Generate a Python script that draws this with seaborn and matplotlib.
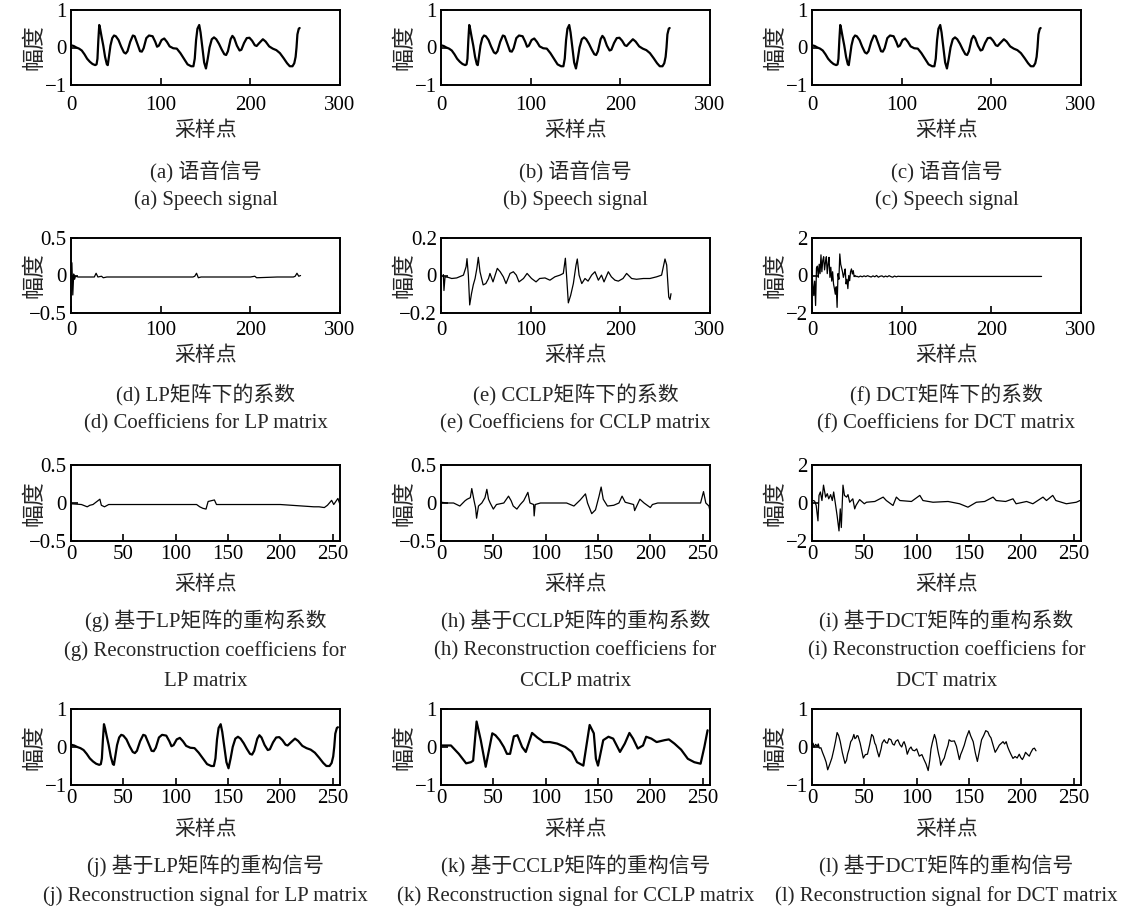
import matplotlib
matplotlib.use("Agg")
import matplotlib.pyplot as plt
import seaborn as sns
import pandas as pd

# ---- speech frame (a)-(c), samples of the waveform ----
speech_x = [0, 3, 6, 9, 12, 15, 18, 21, 24, 27, 28.5, 29.5, 30.5, 31.5, 32.5, 34, 36, 38, 40, 41,
            42, 44, 46, 48, 50, 53, 56, 59, 61, 63, 66, 69, 71, 74, 77, 79, 81, 84, 87, 91, 94,
            96, 98, 101, 104, 107, 110, 114, 118, 122, 126, 130, 134, 136.5, 138, 139.5, 141,
            143, 144.5, 146.5, 148.5, 150.5, 152.5, 154.5, 157, 159.5, 162, 165, 168, 171, 173,
            175, 178, 180, 182, 185, 188, 190, 193, 196, 199, 202, 205, 207, 210, 214, 217, 221,
            225, 229, 233, 237, 241, 244, 247, 249, 250.5, 251.5, 252.5, 254, 255]
speech_y = [0.06, 0.04, 0.0, -0.03, -0.08, -0.18, -0.3, -0.38, -0.44, -0.47, -0.45, -0.3, 0.2,
            0.6, 0.5, 0.3, 0.05, -0.25, -0.45, -0.47, -0.3, 0.05, 0.25, 0.32, 0.3, 0.2, 0.02,
            -0.13, -0.16, -0.1, 0.15, 0.32, 0.3, 0.1, -0.1, -0.11, -0.02, 0.25, 0.32, 0.3, 0.15,
            0.02, 0.05, 0.2, 0.24, 0.15, 0.03, -0.02, -0.03, -0.15, -0.3, -0.45, -0.5, -0.5,
            -0.3, 0.2, 0.5, 0.6, 0.4, 0.0, -0.4, -0.56, -0.3, 0.0, 0.22, 0.27, 0.22, 0.1, -0.05,
            -0.18, -0.2, -0.1, 0.22, 0.31, 0.25, 0.05, -0.08, -0.06, 0.12, 0.25, 0.26, 0.18,
            0.06, 0.04, 0.12, 0.22, 0.16, 0.03, -0.03, -0.07, -0.15, -0.28, -0.42, -0.5, -0.5,
            -0.42, -0.25, 0.0, 0.35, 0.5, 0.52]

# ---- (d) coefficients under the LP matrix ----
lp_coef_x = [0, 1, 2, 3, 4, 5, 8, 20, 26, 28, 30, 34, 36, 40, 60, 80, 100, 120, 136, 138, 140,
             142, 145, 170, 200, 205, 207, 230, 248, 250, 252, 254, 256]
lp_coef_y = [0.0, 0.17, -0.26, 0.02, -0.05, -0.01, -0.02, -0.02, -0.02, 0.03, -0.02, -0.01, -0.03,
             -0.02, -0.02, -0.02, -0.02, -0.02, -0.02, -0.01, 0.03, -0.03, -0.02, -0.02, -0.02,
             -0.01, -0.03, -0.02, -0.02, -0.01, 0.03, -0.01, 0.0]

# ---- (e) coefficients under the CCLP matrix ----
cclp_coef_x = [2.6, 3.3, 4.5, 8, 12, 17.5, 25, 28, 29, 30.5, 32, 34, 36, 38, 40, 41.6, 43.5, 47, 50,
               53, 54.6, 58, 62.8, 66, 69.5, 72.5, 77, 80.7, 84, 87, 92, 96, 101, 106, 110, 116,
               121.5, 127, 132.7, 136.4, 138.7, 140, 142, 144.6, 147.6, 150.6, 152, 154, 157,
               160.6, 164, 168, 171.7, 175.5, 179, 181.8, 186.6, 190, 194, 197.8, 203, 207,
               212.6, 218, 225.7, 233, 240.5, 246, 249.8, 251.7, 254, 255.4, 256.5]
cclp_coef_y = [0.005, -0.08, -0.007, -0.01, -0.016, -0.013, 0.002, 0.047, 0.09, 0.002, -0.157,
               -0.097, -0.05, -0.016, 0.038, 0.097, 0.02, -0.05, -0.043, -0.016, 0.011, -0.034,
               0.038, 0.02, -0.007, -0.043, 0.011, 0.02, 0.002, -0.034, -0.016, 0.011, -0.016,
               -0.034, -0.016, -0.013, -0.025, -0.007, 0.002, 0.011, 0.092, 0.002, -0.146,
               -0.106, -0.043, 0.056, 0.088, 0.002, -0.043, -0.016, -0.03, 0.002, 0.02, -0.025,
               0.002, -0.034, 0.02, -0.007, -0.025, -0.03, -0.016, 0.011, -0.016, -0.02, -0.016,
               -0.016, -0.007, 0.002, 0.088, 0.056, -0.115, -0.128, -0.097]

# ---- (f) coefficients under the DCT matrix ----
dct_coef_x = list(range(0, 51)) + [52, 54, 56, 58, 60, 62, 64, 66, 68, 70, 72, 74, 76, 78, 80, 82,
                                   84, 86, 88, 90, 92, 94, 96, 98, 256]
dct_coef_y = [0.1, -0.5, -1.07, -0.3, -1.6, 0.4, 0.5, -0.1, 0.6, 0.1, 1.1, 0.2, 0.8, 1.0, 0.3,
              0.7, 1.0, 0.1, 0.6, 0.97, -0.1, 0.44, -0.3, 0.2, -0.45, -0.7, -1.0, -0.6, -1.7, 0.1,
              -0.2, 1.15, 0.6, 0.4, 0.2, -0.1, 0.1, 0.35, -0.45, -0.2, -0.7, 0.0, -0.28, 0.2,
              0.35, 0.08, 0.26, -0.06, 0.0, -0.06, -0.04,
              -0.08, -0.03, -0.07, -0.02, -0.06, -0.01, -0.05, -0.08, -0.02, -0.07, 0.0, -0.09,
              -0.04, -0.02, -0.08, -0.03, -0.07, -0.01, -0.06, -0.09, -0.03, -0.07, -0.04,
              -0.05, -0.05]

# ---- (g) reconstructed coefficients, LP ----
lp_rec_x = [0, 10, 15.5, 18, 21, 27.6, 29, 32, 36, 60, 90, 120, 123, 126, 129, 131, 137, 139, 170,
            200, 232, 237, 242, 245, 249, 251, 255, 257]
lp_rec_y = [-0.01, -0.02, -0.05, -0.03, -0.02, 0.05, -0.03, -0.05, -0.02, -0.02, -0.02, -0.02,
            -0.05, -0.07, -0.08, 0.02, 0.04, -0.02, -0.02, -0.02, -0.05, -0.05, -0.06, -0.03,
            0.035, -0.02, 0.06, -0.02]

# ---- (h) reconstructed coefficients, CCLP ----
cclp_rec_x = [0.6, 5, 12, 18, 23, 25, 28, 29.4, 31.6, 33, 34, 35.8, 39, 42, 43.8, 45.4, 47, 50, 53,
              60, 64.5, 67, 69, 72.5, 75.7, 79, 83, 85, 88.5, 89, 90, 95, 100, 108, 120, 127, 133,
              138, 140, 144, 147.6, 151, 153, 155, 159, 165, 170, 173, 176, 184, 185, 190, 194,
              200, 202, 207, 229, 248, 250.8, 253, 256, 257]
cclp_rec_y = [0.01, 0.0, 0.0, -0.04, 0.03, 0.05, 0.07, 0.19, 0.03, -0.06, -0.2, -0.04, 0.0, 0.07,
              0.18, 0.05, 0.0, -0.08, -0.02, 0.0, 0.09, 0.03, -0.04, -0.08, -0.02, 0.03, 0.14, 0.0,
              -0.02, -0.17, -0.02, 0.0, 0.0, 0.0, 0.0, -0.04, 0.04, 0.12, 0.0, -0.14, -0.09, 0.09,
              0.21, 0.05, -0.04, -0.03, 0.0, 0.09, 0.01, -0.02, -0.1, 0.05, 0.0, -0.06, -0.02,
              0.0, 0.0, 0.0, 0.15, 0.0, -0.04, -0.11]

# ---- (i) reconstructed coefficients, DCT ----
dct_rec_x = [1, 2.5, 4, 5.7, 6.7, 8, 9.5, 11, 13, 14.6, 16, 17.8, 19.4, 20.7, 22.6, 24, 25.8, 27,
             28, 29.6, 31, 33, 34.4, 36, 39, 40.8, 42, 45.5, 50, 52, 60, 68, 71, 77.4, 80.6, 84,
             95, 103, 106, 115.6, 130, 141, 149, 157, 165, 173, 176, 185, 192, 195, 205, 211,
             220.7, 224, 230, 233, 243, 252.5, 256]
dct_rec_y = [0.13, 0.1, -0.13, -0.94, 0.4, 0.58, 0.13, 0.94, 0.31, 0.49, 0.22, 0.44, 0.13, 0.58,
             -0.13, -0.67, -1.47, -0.31, -1.29, 0.94, 0.4, 0.31, 0.44, 0.04, 0.22, -0.31, -0.13,
             0.18, -0.04, 0.04, 0.08, 0.31, 0.13, -0.13, 0.31, 0.13, 0.08, 0.4, 0.13, 0.04, 0.08,
             -0.04, -0.22, 0.04, 0.08, 0.31, 0.13, 0.08, 0.22, -0.04, 0.08, -0.04, 0.31, 0.13,
             0.4, 0.13, -0.04, 0.04, 0.13]

# ---- (k) reconstructed signal, CCLP ----
cclp_sig_x = [0, 9.5, 17, 24, 28.5, 30.7, 34, 38, 42.7, 49, 52, 56, 60, 63, 66, 69.6, 73, 77.5, 81,
              87, 92, 98, 104, 111, 118.7, 125, 130, 136, 142, 146, 148, 150, 155, 160, 164.5, 171,
              175.6, 180, 183.5, 188, 193, 196, 201, 206, 213.6, 217.7, 223, 229.4, 235.8, 242,
              248, 251.6, 254.7]
cclp_sig_y = [0.04, 0.04, -0.18, -0.43, -0.4, -0.36, 0.67, 0.18, -0.52, 0.36, 0.31, 0.18, 0.0,
              -0.18, -0.18, 0.28, 0.31, 0.0, -0.13, 0.37, 0.25, 0.13, 0.13, 0.09, 0.0, -0.13, -0.4,
              -0.49, 0.58, 0.36, -0.31, -0.49, 0.18, 0.27, 0.22, -0.13, 0.09, 0.37, 0.22, -0.04,
              0.04, 0.27, 0.22, 0.13, 0.18, 0.2, 0.09, -0.07, -0.31, -0.4, -0.44, 0.0, 0.44]

# ---- (l) reconstructed signal, DCT ----
dct_sig_x = [0, 1, 2, 3.5, 5, 6, 7, 8.5, 10, 12, 13.5, 15, 17, 19, 21, 22.5, 24, 25.5, 27, 29,
             31.5, 33, 34, 35.5, 37, 38.5, 40, 41, 42, 43, 44, 46, 47.5, 49, 51, 53, 55, 57, 58.5,
             60, 61, 62.5, 64, 66, 67, 69, 70.5, 72, 73.5, 75.5, 77, 78.6, 80, 82, 84, 85.7, 87,
             88, 89.5, 91, 93, 94.6, 96, 98, 100, 102.5, 105, 107, 109, 111, 112.5, 113.7, 115,
             117, 118.5, 120, 121, 122, 123, 124.5, 126.4, 128, 130, 131, 133, 136, 138, 140.8,
             142, 143.5, 145.5, 147.5, 150, 151.5, 154, 156, 158, 160, 162, 164, 166, 168, 169.5,
             171, 173, 175, 177, 179, 181, 182.5, 184, 185.5, 187, 188.5, 190, 192, 194, 196,
             198, 199.5, 201, 202.5, 204, 206, 207.6, 209, 211, 212.5, 214]
dct_sig_y = [0.05, 0.1, 0.0, 0.07, 0.02, 0.08, -0.03, -0.02, -0.14, -0.28, -0.4, -0.6, -0.45,
             -0.29, -0.05, 0.15, 0.38, 0.3, 0.14, -0.15, -0.43, -0.35, -0.19, -0.05, 0.14, 0.2,
             0.33, 0.22, 0.24, 0.3, 0.29, 0.1, -0.1, -0.29, -0.2, -0.19, 0.05, 0.33, 0.28, 0.1,
             0.05, -0.12, -0.26, -0.05, 0.1, 0.19, 0.12, 0.1, 0.22, 0.19, 0.08, 0.05, 0.15, 0.19,
             0.06, 0.0, 0.1, 0.14, 0.02, -0.19, -0.05, 0.0, -0.08, -0.1, -0.05, -0.24, -0.2,
             -0.33, -0.45, -0.62, -0.35, -0.05, 0.12, 0.33, 0.2, -0.05, -0.19, -0.3, -0.48,
             -0.38, -0.29, -0.12, 0.05, 0.19, 0.15, 0.16, 0.02, -0.33, -0.2, -0.1, 0.05, 0.25,
             0.43, 0.3, 0.14, -0.15, -0.38, -0.1, 0.19, 0.3, 0.43, 0.4, 0.3, 0.24, 0.05, -0.14,
             -0.05, 0.05, 0.1, 0.14, 0.08, 0.14, 0.0, -0.1, -0.19, -0.3, -0.25, -0.29, -0.19,
             -0.28, -0.33, -0.25, -0.14, -0.2, -0.24, -0.15, -0.05, -0.03, -0.1]

# ---- captions ----
captions_cn = ["(a) 语音信号", "(b) 语音信号", "(c) 语音信号",
               "(d) LP矩阵下的系数", "(e) CCLP矩阵下的系数", "(f) DCT矩阵下的系数",
               "(g) 基于LP矩阵的重构系数", "(h) 基于CCLP矩阵的重构系数", "(i) 基于DCT矩阵的重构系数",
               "(j) 基于LP矩阵的重构信号", "(k) 基于CCLP矩阵的重构信号", "(l) 基于DCT矩阵的重构信号"]
captions_en = [["(a) Speech signal"], ["(b) Speech signal"], ["(c) Speech signal"],
               ["(d) Coefficiens for LP matrix"], ["(e) Coefficiens for CCLP matrix"],
               ["(f) Coefficiens for DCT matrix"],
               ["(g) Reconstruction coefficiens for", "LP matrix"],
               ["(h) Reconstruction coefficiens for", "CCLP matrix"],
               ["(i) Reconstruction coefficiens for", "DCT matrix"],
               ["(j) Reconstruction signal for LP matrix"],
               ["(k) Reconstruction signal for CCLP matrix"],
               ["(l) Reconstruction signal for DCT matrix"]]
ylabel_text = "幅度"
xlabel_text = "采样点"

sns.set_style("ticks")
FONT = ["Liberation Serif", "Noto Sans CJK SC", "DejaVu Sans"]
plt.rcParams["font.family"] = FONT
plt.rcParams["axes.unicode_minus"] = True
FS = 15

W, H = 1140, 911
fig = plt.figure(figsize=(W / 100, H / 100), dpi=100)
fig.patch.set_facecolor("white")

col_left = [71, 441, 812]
col_width = 269
rows = [  # top, bottom, xlabel y, caption y's
    dict(top=10, bot=85, xl=131, cap=[172, 200], xlim=(0, 300), xt=[0, 100, 200, 300], pad=8),
    dict(top=238, bot=313, xl=356, cap=[395, 424], xlim=(0, 300), xt=[0, 100, 200, 300], pad=5.5),
    dict(top=465, bot=541, xl=585, cap=[621, 651, 681], xlim=(0, 257),
         xt=[0, 50, 100, 150, 200, 250], pad=3),
    dict(top=709, bot=785, xl=830, cap=[866, 896], xlim=(0, 257),
         xt=[0, 50, 100, 150, 200, 250], pad=3),
]

panels = [
    (speech_x, speech_y, (-1, 1), [-1, 0, 1], ["−1", "0", "1"], 1.6),
    (speech_x, speech_y, (-1, 1), [-1, 0, 1], ["−1", "0", "1"], 1.6),
    (speech_x, speech_y, (-1, 1), [-1, 0, 1], ["−1", "0", "1"], 1.6),
    (lp_coef_x, lp_coef_y, (-0.5, 0.5), [-0.5, 0, 0.5], ["−0.5", "0", "0.5"], 0.9),
    (cclp_coef_x, cclp_coef_y, (-0.2, 0.2), [-0.2, 0, 0.2], ["−0.2", "0", "0.2"], 0.9),
    (dct_coef_x, dct_coef_y, (-2, 2), [-2, 0, 2], ["−2", "0", "2"], 0.9),
    (lp_rec_x, lp_rec_y, (-0.5, 0.5), [-0.5, 0, 0.5], ["−0.5", "0", "0.5"], 0.9),
    (cclp_rec_x, cclp_rec_y, (-0.5, 0.5), [-0.5, 0, 0.5], ["−0.5", "0", "0.5"], 0.9),
    (dct_rec_x, dct_rec_y, (-2, 2), [-2, 0, 2], ["−2", "0", "2"], 0.9),
    (speech_x, speech_y, (-1, 1), [-1, 0, 1], ["−1", "0", "1"], 1.6),
    (cclp_sig_x, cclp_sig_y, (-1, 1), [-1, 0, 1], ["−1", "0", "1"], 1.6),
    (dct_sig_x, dct_sig_y, (-1, 1), [-1, 0, 1], ["−1", "0", "1"], 0.9),
]

for idx, (px, py, ylim, yt, ytl, lw) in enumerate(panels):
    r, c = divmod(idx, 3)
    row = rows[r]
    left = col_left[c]
    ax = fig.add_axes([left / W, 1 - row["bot"] / H, col_width / W, (row["bot"] - row["top"]) / H])
    df = pd.DataFrame({"x": px, "y": py})
    sns.lineplot(data=df, x="x", y="y", ax=ax, color="black", linewidth=lw,
                 estimator=None, sort=False)
    ax.set_xlim(*row["xlim"])
    ax.set_ylim(*ylim)
    ax.set_xticks(row["xt"])
    ax.set_xticklabels([str(t) for t in row["xt"]], fontsize=FS)
    ax.set_yticks(yt)
    ax.set_yticklabels(ytl, fontsize=FS)
    ax.tick_params(axis="both", direction="in", length=5, width=1.2, colors="black")
    ax.tick_params(axis="x", pad=row["pad"])
    ax.tick_params(axis="y", pad=3)
    ax.set_xlabel("")
    ax.set_ylabel("")
    for s in ax.spines.values():
        s.set_linewidth(1.4)
        s.set_color("black")
        s.set_visible(True)

    cx = (left + col_width / 2) / W
    # axis titles
    fig.text((left - 36) / W, 1 - (row["top"] + row["bot"]) / 2 / H, ylabel_text, rotation=90,
             ha="center", va="center", fontsize=FS + 1.5, family=FONT)
    fig.text(cx, 1 - row["xl"] / H, xlabel_text, ha="center", va="center", fontsize=FS,
             family=FONT)
    # captions
    lines = [captions_cn[idx]] + captions_en[idx]
    for k, txt in enumerate(lines):
        fig.text(cx, 1 - row["cap"][k] / H, txt, ha="center", va="center", fontsize=FS,
                 family=FONT)

fig.savefig("out.png", dpi=100, facecolor="white")
